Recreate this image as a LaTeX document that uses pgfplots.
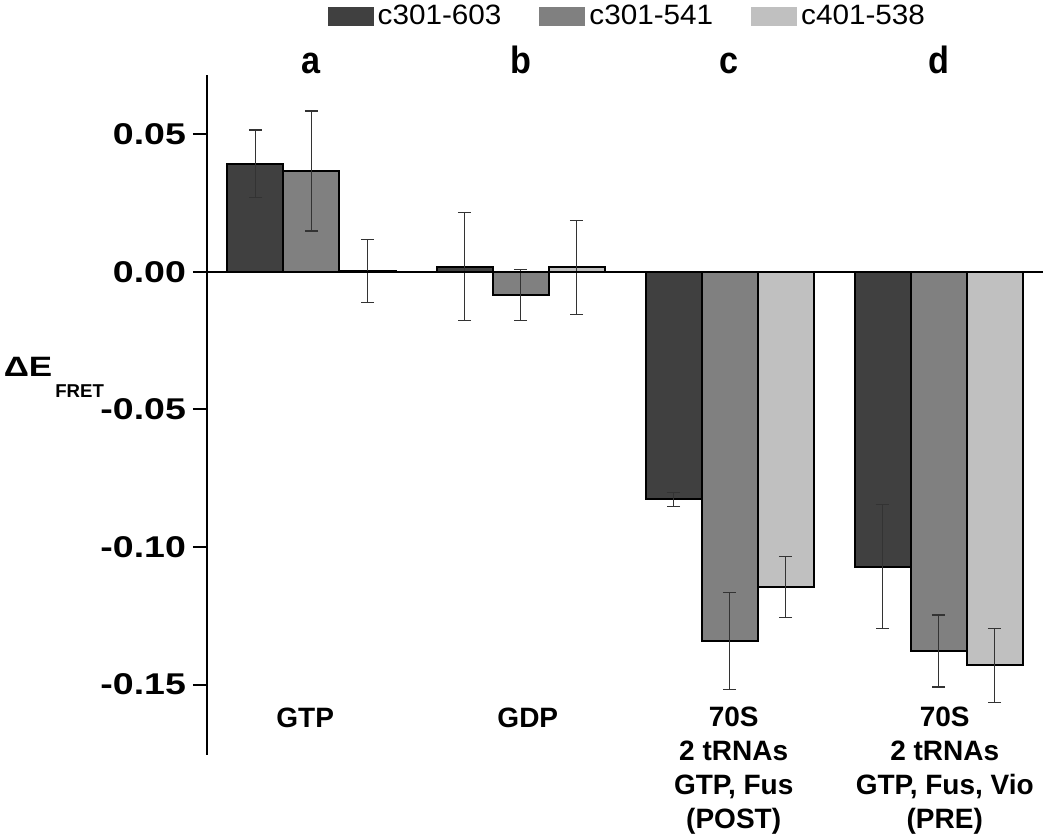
\documentclass[border=0pt]{standalone}
\usepackage{pgfplots}
\pgfplotsset{compat=1.18}
\usepackage{fontspec}
\setmainfont{Liberation Sans}
\newfontfamily\tickfont[FakeStretch=1.25]{Liberation Sans}
\newfontfamily\legfont[FakeStretch=1.06]{Liberation Sans}
\newfontfamily\letfont[FakeStretch=0.9]{Liberation Sans}
\definecolor{cA}{HTML}{404040}
\definecolor{cB}{HTML}{808080}
\definecolor{cC}{HTML}{C0C0C0}
\begin{document}
\begin{tikzpicture}
\path[use as bounding box] (-103.5pt,-41.5pt) rectangle (421.5pt,377.5pt);
\begin{axis}[
  scale only axis, width=418pt, height=340pt,
  xmin=-0.5, xmax=3.5, ymin=-0.1756, ymax=0.0716,
  axis x line=none, axis y line*=left,
  axis line style={line width=1.3pt},
  ybar=0pt, bar width=28pt,
  xtick=\empty,
  ytick={-0.15,-0.1,-0.05,0,0.05},
  yticklabels={-0.15,-0.10,-0.05,0.00,0.05},
  yticklabel style={font=\tickfont\bfseries\fontsize{15}{15}\selectfont},
  tick align=outside, major tick length=7pt,
  tick style={line width=1pt, black},
  clip=false,
  legend style={draw=none, fill=none, at={(0.504,1.086)}, anchor=center,
    legend columns=3, font=\legfont\fontsize{14}{14}\selectfont,
    /tikz/every even column/.append style={column sep=17pt},
    legend cell align=left, inner sep=0pt, nodes={inner xsep=2pt}},
  legend image code/.code={\fill[#1,draw=none] (0pt,-4.75pt) rectangle (23pt,4.75pt);},
  error bars/y dir=both, error bars/y explicit,
  error bars/error bar style={line width=0.6pt, black!80},
  error bars/error mark options={rotate=90, mark size=3.3pt, line width=0.6pt, black!80},
]
\addplot[fill=cA, draw=black, line width=1pt] coordinates {
  (0,0.0393) +- (0,0.0123)
  (1,0.0019) +- (0,0.0196)
  (2,-0.0827) +- (0,0.0025)
  (3,-0.1071) +- (0,0.0225)
};
\addplot[fill=cB, draw=black, line width=1pt] coordinates {
  (0,0.0367) +- (0,0.0218)
  (1,-0.0084) +- (0,0.0092)
  (2,-0.1341) +- (0,0.0177)
  (3,-0.1378) +- (0,0.0131)
};
\addplot[fill=cC, draw=black, line width=1pt] coordinates {
  (0,0.0003) +- (0,0.0115)
  (1,0.0017) +- (0,0.0171)
  (2,-0.1145) +- (0,0.0110)
  (3,-0.1430) +- (0,0.0134)
};
\legend{c301-603,c301-541,c401-538}
\draw[line width=1pt] (axis cs:-0.5,0) -- (axis cs:3.5,0);
\node[anchor=base, font=\letfont\bfseries\fontsize{19}{19}\selectfont, inner sep=0pt] at (axis cs:0,0.0720) {a};
\node[anchor=base, font=\letfont\bfseries\fontsize{19}{19}\selectfont, inner sep=0pt] at (axis cs:1,0.0720) {b};
\node[anchor=base, font=\letfont\bfseries\fontsize{19}{19}\selectfont, inner sep=0pt] at (axis cs:2,0.0720) {c};
\node[anchor=base, font=\letfont\bfseries\fontsize{19}{19}\selectfont, inner sep=0pt] at (axis cs:3,0.0720) {d};
\node[anchor=base, align=center, inner sep=0pt, font=\bfseries\fontsize{14}{17}\selectfont] at (axis cs:-0.03,-0.1655) {GTP};
\node[anchor=base, align=center, inner sep=0pt, font=\bfseries\fontsize{14}{17}\selectfont] at (axis cs:1.035,-0.1655) {GDP};
\node[anchor=base, align=center, inner sep=0pt, font=\bfseries\fontsize{14}{17}\selectfont] at (axis cs:2.02,-0.2022) {70S\\2 tRNAs\\GTP, Fus\\(POST)};
\node[anchor=base, align=center, inner sep=0pt, font=\bfseries\fontsize{14}{17}\selectfont] at (axis cs:3.03,-0.2022) {70S\\2 tRNAs\\GTP, Fus, Vio\\(PRE)};
\node[anchor=base west, inner sep=0pt] at (rel axis cs:-0.2435,0.556) {{\tickfont\bfseries\fontsize{14}{14}\selectfont ΔE}\hspace{1.5pt}\raisebox{-10.5pt}{\bfseries\fontsize{9.3}{9.3}\selectfont FRET}};
\end{axis}
\end{tikzpicture}
\end{document}
